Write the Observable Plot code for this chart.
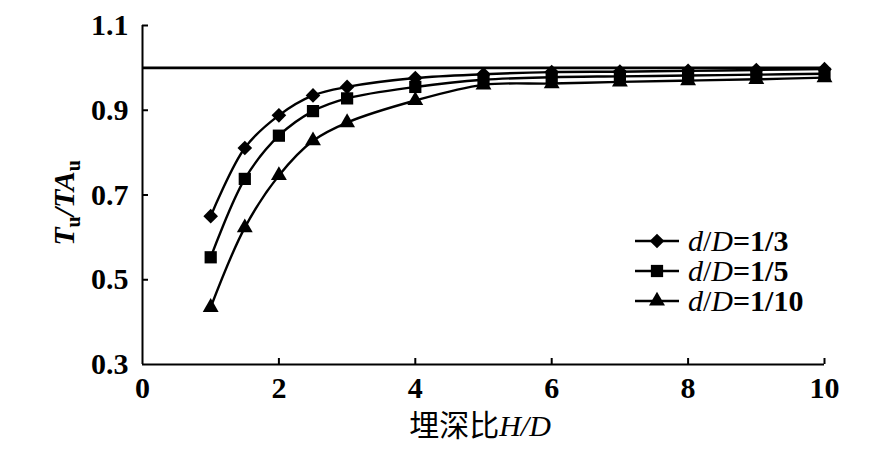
<!DOCTYPE html>
<html>
<head>
<meta charset="utf-8">
<script src="https://cdn.jsdelivr.net/npm/d3@7"></script>
<script src="https://cdn.jsdelivr.net/npm/@observablehq/plot@0.6"></script>
<style>
  html, body { margin: 0; padding: 0; background: white; }
</style>
</head>
<body>
<div id="chart"></div>
<script>
// Data
const depthRatio = [1, 1.5, 2, 2.5, 3, 4, 5, 6, 7, 8, 9, 10];        // H/D
const dD13  = [0.650, 0.811, 0.888, 0.935, 0.955, 0.976, 0.985, 0.990, 0.991, 0.993, 0.995, 0.997];
const dD15  = [0.553, 0.738, 0.840, 0.898, 0.928, 0.955, 0.972, 0.978, 0.980, 0.982, 0.984, 0.986];
const dD110 = [0.435, 0.623, 0.746, 0.828, 0.871, 0.923, 0.960, 0.963, 0.967, 0.970, 0.973, 0.977];
const seriesNames = ["1/3", "1/5", "1/10"];
const seriesSymbols = ["diamond2", "square", "triangle"];
const xTicks = [0, 2, 4, 6, 8, 10];
const yTicks = [0.3, 0.5, 0.7, 0.9, 1.1];
const refLine = [1.0];

const seriesValues = [dD13, dD15, dD110];
const rows = seriesValues.flatMap((vals, s) =>
  vals.map((v, i) => ({x: depthRatio[i], y: v, s: seriesNames[s], sym: seriesSymbols[s]})));

const W = 877, H = 453;
const mL = 142, mR = 53, mT = 25, mB = 89;
const yPerPx = (1.1 - 0.3) / (H - mT - mB);
const xPerPx = 10 / (W - mL - mR);
const tickLen = 6;

const chart = Plot.plot({
  width: W,
  height: H,
  marginLeft: mL,
  marginRight: mR,
  marginTop: mT,
  marginBottom: mB,
  style: "font-family: 'Liberation Serif', serif; font-size: 30px; font-weight: bold; color: black; background: white; overflow: visible;",
  x: {domain: [0, 10]},
  y: {domain: [0.3, 1.1]},
  marks: [
    Plot.axisX({ticks: xTicks, tickSize: 0, tickPadding: 12, label: null, tickFormat: d => String(d)}),
    Plot.axisY({ticks: yTicks, tickSize: 0, tickPadding: 14, label: null, tickFormat: d => d.toFixed(1)}),
    // inward ticks
    Plot.ruleX(xTicks.slice(1), {x: d => d, y1: 0.3, y2: 0.3 + tickLen * yPerPx, stroke: "black", strokeWidth: 2}),
    Plot.ruleY(yTicks.slice(1), {y: d => d, x1: 0, x2: tickLen * xPerPx, stroke: "black", strokeWidth: 2}),
    // axis lines
    Plot.ruleX([0], {stroke: "black", strokeWidth: 2}),
    Plot.ruleY([0.3], {stroke: "black", strokeWidth: 2}),
    // reference line at 1.0
    Plot.ruleY(refLine, {stroke: "black", strokeWidth: 2.8}),
    Plot.line(rows, {x: "x", y: "y", z: "s", stroke: "black", strokeWidth: 2.4, curve: "catmull-rom"}),
    Plot.dot(rows.filter(d => d.sym === "diamond2"), {x: "x", y: "y", symbol: "diamond2", r: 6.6, fill: "black", stroke: "none"}),
    Plot.dot(rows.filter(d => d.sym === "square"), {x: "x", y: "y", symbol: "square", r: 6.9, fill: "black", stroke: "none"}),
    Plot.dot(rows.filter(d => d.sym === "triangle"), {x: "x", y: "y", symbol: "triangle", r: 5.9, fill: "black", stroke: "none"})
  ]
});

document.getElementById("chart").appendChild(chart);

const svg = d3.select(chart);

// Y axis title: T_u / TA_u
const yt = svg.append("text")
  .attr("transform", "translate(74,203) rotate(-90)")
  .attr("text-anchor", "middle")
  .attr("font-family", "'Liberation Serif', serif")
  .attr("font-size", 30)
  .attr("font-weight", "bold")
  .attr("fill", "black");
yt.append("tspan").attr("font-style", "italic").text("T");
yt.append("tspan").attr("font-size", 20).attr("dy", 6).text("u");
yt.append("tspan").attr("font-style", "italic").attr("dy", -6).text("/TA");
yt.append("tspan").attr("font-size", 20).attr("dy", 6).text("u");

// X axis title: 埋深比H/D
const xt = svg.append("text")
  .attr("x", 480)
  .attr("y", 436)
  .attr("text-anchor", "middle")
  .attr("font-size", 30)
  .attr("fill", "black");
xt.append("tspan").attr("font-family", "'Noto Sans CJK SC', sans-serif").attr("font-weight", "normal").text("埋深比");
xt.append("tspan").attr("font-family", "'Liberation Serif', serif").attr("font-style", "italic").attr("font-weight", "normal").text("H/D");

// Legend
const legendY = [241, 271, 301];
const lg = svg.append("g");
seriesNames.forEach((name, i) => {
  const y = legendY[i];
  lg.append("line").attr("x1", 635).attr("x2", 679).attr("y1", y).attr("y2", y)
    .attr("stroke", "black").attr("stroke-width", 2.5);
  const sym = i === 0 ? d3.symbolDiamond2 : i === 1 ? d3.symbolSquare : d3.symbolTriangle;
  const size = i === 0 ? 137 : i === 1 ? 150 : 110;
  lg.append("path").attr("d", d3.symbol(sym, size)()).attr("transform", `translate(657,${y})`).attr("fill", "black");
  const t = lg.append("text").attr("x", 688).attr("y", y + 10)
    .attr("text-anchor", "start")
    .attr("font-family", "'Liberation Serif', serif").attr("font-size", 30).attr("fill", "black");
  t.append("tspan").attr("font-style", "italic").attr("font-weight", "normal").text("d");
  t.append("tspan").attr("font-weight", "normal").text("/");
  t.append("tspan").attr("font-style", "italic").attr("font-weight", "normal").text("D");
  t.append("tspan").attr("font-weight", "bold").text("=" + name);
});
</script>
</body>
</html>
